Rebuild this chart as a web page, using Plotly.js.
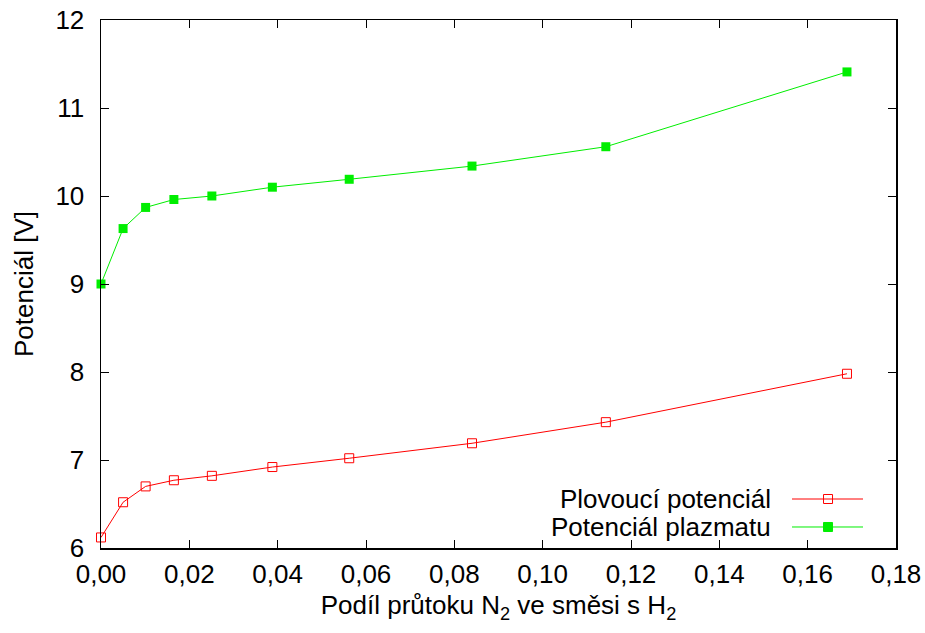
<!DOCTYPE html>
<html><head><meta charset="utf-8">
<script src="https://cdn.plot.ly/plotly-3.0.1.min.js"></script>
<style>html,body{margin:0;padding:0;background:#fff}#chart{width:925px;height:633px}</style>
</head><body><div id="chart"></div>
<script>
const podil = [0.0000, 0.0050, 0.0101, 0.0165, 0.0251, 0.0388, 0.0562, 0.0840, 0.1143, 0.1689];
const plovouci = [6.12, 6.52, 6.70, 6.77, 6.82, 6.92, 7.02, 7.19, 7.43, 7.98];
const plazma = [9.00, 9.63, 9.87, 9.96, 10.00, 10.10, 10.19, 10.34, 10.56, 11.41];
const seriesNames = ['Plovoucí potenciál', 'Potenciál plazmatu'];
const xTicks = [0, 0.02, 0.04, 0.06, 0.08, 0.10, 0.12, 0.14, 0.16, 0.18];
const yTicks = [6, 7, 8, 9, 10, 11, 12];

const RED = '#ff0000', GREEN = '#00ee00';
const FONT = 'Liberation Sans, Arial, Helvetica, sans-serif';
const FS = 26;

const traces = [
  {x: podil, y: plovouci, name: seriesNames[0], mode: 'lines+markers', type: 'scatter',
   line: {color: RED, width: 1}, marker: {symbol: 'square-open', size: 9, color: RED, line: {width: 1, color: RED}},
   cliponaxis: false, showlegend: false},
  {x: podil, y: plazma, name: seriesNames[1], mode: 'lines+markers', type: 'scatter',
   line: {color: GREEN, width: 1}, marker: {symbol: 'square', size: 9, color: GREEN},
   cliponaxis: false, showlegend: false}
];

// manual gnuplot-style legend (text left, sample right)
const legY = [0.0928, 0.0398];
const legX0 = 0.8692, legX1 = 0.9585, legXm = 0.9145, legText = 0.8453;
const shapes = [], annotations = [];
[RED, GREEN].forEach((c, i) => {
  shapes.push({type: 'line', xref: 'paper', yref: 'paper', x0: legX0, x1: legX1, y0: legY[i], y1: legY[i], line: {color: c, width: 1}});
  shapes.push({type: 'rect', xref: 'paper', yref: 'paper', xsizemode: 'pixel', ysizemode: 'pixel',
    xanchor: legXm, yanchor: legY[i], x0: -4.5, x1: 4.5, y0: -4.5, y1: 4.5,
    line: {color: c, width: 1}, fillcolor: i === 0 ? 'rgba(255,255,255,0)' : c});
  annotations.push({xref: 'paper', yref: 'paper', x: legText, y: legY[i], xanchor: 'right', yanchor: 'middle',
    text: seriesNames[i], showarrow: false, font: {family: FONT, size: FS, color: '#000'}});
});

const axisCommon = {
  showline: true, linecolor: '#000', linewidth: 1.5, mirror: 'ticks',
  ticks: 'inside', ticklen: 8, tickwidth: 1, tickcolor: '#000',
  showgrid: false, zeroline: false,
  tickfont: {family: FONT, size: FS, color: '#000'}
};

const layout = {
  width: 925, height: 633,
  margin: {l: 101, r: 29, t: 20, b: 85},
  paper_bgcolor: '#fff', plot_bgcolor: '#fff',
  separators: ', ',
  font: {family: FONT, color: '#000'},
  xaxis: Object.assign({}, axisCommon, {
    range: [0, 0.18], tickvals: xTicks, tickformat: '.2f', ticklabelstandoff: 2,
    title: {text: 'Podíl průtoku N<sub>2</sub> ve směsi s H<sub>2</sub>', font: {family: FONT, size: FS, color: '#000'}, standoff: 8}
  }),
  yaxis: Object.assign({}, axisCommon, {
    range: [6, 12], tickvals: yTicks, ticklabelstandoff: 10,
    title: {text: 'Potenciál [V]', font: {family: FONT, size: FS, color: '#000'}, standoff: 14}
  }),
  shapes: shapes, annotations: annotations, showlegend: false
};

Plotly.newPlot('chart', traces, layout, {displayModeBar: false, staticPlot: true});
</script></body></html>
